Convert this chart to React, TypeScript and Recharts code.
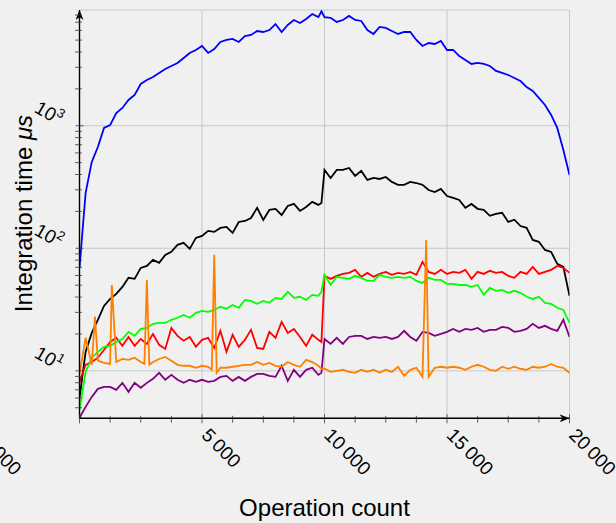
import { CartesianGrid, Line, LineChart, XAxis, YAxis } from 'recharts';

// sample points along the operation axis (shared by every series)
const ops = [
  0, 250, 500, 750, 1000, 1250, 1500, 1750, 2000, 2250,
  2500, 2750, 3000, 3250, 3500, 3750, 4000, 4250, 4500, 4750,
  5000, 5250, 5500, 5750, 6000, 6250, 6500, 6750, 7000, 7250,
  7500, 7750, 8000, 8250, 8500, 8750, 9000, 9250, 9500, 9750,
  9875,
  10000, 10250, 10500, 10750, 11000, 11250, 11500, 11750, 12000, 12250,
  12500, 12750, 13000, 13250, 13500, 13750, 14000, 14250, 14500, 14750,
  15000, 15250, 15500, 15750, 16000, 16250, 16500, 16750, 17000, 17250,
  17500, 17750, 18000, 18250, 18500, 18750, 19000, 19250, 19500, 19750,
  20000,
];

const blueTimes = [
  69, 283, 507, 671, 960, 1013, 1270, 1396, 1622, 1782,
  2192, 2365, 2502, 2698, 2906, 3076, 3254, 3575, 3928, 4152,
  4478, 3928, 4229, 4828, 5012, 5107, 4828, 5400, 5504, 5932,
  5822, 6040, 6761, 5822, 6637, 7295, 6888, 7430, 8166, 7709,
  8600,
  7700, 7600, 7030, 7295, 7870, 7295, 7160, 6040, 5610, 6400,
  6280, 5932, 5610, 5822, 5822, 5012, 4478, 4732, 4645, 4920,
  4152, 4152, 3705, 3443, 3193, 3254, 3193, 3076, 2800, 2698,
  2595, 2455, 2317, 2070, 1921, 1686, 1479, 1225, 960, 635,
  397,
];

const blackTimes = [
  6, 14.3, 20.4, 26.1, 33.9, 38.6, 42.4, 48.4, 57.4, 56.3,
  69.2, 71.8, 80.4, 76.0, 88.4, 93.5, 106.6, 110.7, 98.9, 121.6,
  126.3, 138.7, 136.1, 146.6, 149.6, 133.6, 164.0, 167.1, 176.9, 213.6,
  170.4, 205.7, 209.6, 187.0, 221.8, 230.3, 201.8, 217.6, 239.0, 225.9,
  234,
  436, 375, 436, 436, 452, 390, 428, 361, 375, 368,
  382, 348, 329, 329, 348, 341, 329, 299, 288, 305,
  267, 258, 248, 214, 230, 210, 206, 184, 191, 195,
  164, 171, 152, 147, 117, 113, 97, 93.5, 74.7, 70.5,
  40.9,
];

const redTimes = [
  8.1, 11.2, 11.8, 12.8, 14.8, 17.2, 18.6, 16.0, 18.9, 16.0,
  18.2, 16.6, 20.0, 16.3, 15.1, 22.4, 19.3, 17.6, 18.9, 15.7,
  17.9, 18.6, 15.4, 21.2, 14.3, 19.7, 15.7, 17.9, 21.6, 15.4,
  15.1, 20.8, 18.6, 25.1, 20.4, 22.0, 18.9, 16.0, 19.7, 17.9,
  17.2,
  59.6, 56.3, 59.6, 61.8, 63.0, 66.7, 58.5, 63.0, 58.5, 61.8,
  64.2, 60.7, 63.0, 61.8, 64.2, 60.7, 77.5, 64.2, 61.8, 66.7,
  61.8, 64.2, 63.0, 66.7, 56.3, 64.2, 61.8, 65.5, 63.0, 64.2,
  59.6, 57.4, 64.2, 61.8, 70.5, 61.8, 64.2, 66.7, 71.8, 69.2,
  63.0,
];

const greenTimes = [
  4.81, 9.8, 12.8, 14.3, 15.7, 16.0, 17.2, 18.2, 20.8, 19.3,
  22.0, 22.4, 24.2, 24.6, 24.6, 26.1, 27.1, 28.6, 27.1, 29.7,
  30.8, 30.3, 31.4, 33.3, 32.1, 34.5, 32.7, 37.9, 37.2, 35.2,
  37.2, 35.9, 39.4, 38.6, 44.1, 39.4, 40.2, 37.9, 41.7, 40.9,
  44.1,
  60.7, 50.2, 58.5, 57.4, 56.3, 59.6, 57.4, 54.2, 54.2, 60.7,
  58.5, 57.4, 58.5, 57.4, 58.5, 54.2, 52.2, 57.4, 55.2, 55.2,
  51.3, 51.3, 50.2, 50.2, 48.4, 50.2, 41.7, 47.5, 45.0, 45.8,
  43.3, 45.0, 43.3, 40.2, 38.6, 40.2, 35.9, 35.2, 32.7, 31.4,
  24.6,
];

const purpleTimes = [
  4.14, 5.08, 6.13, 7.13, 7.40, 7.40, 7.00, 7.98, 6.74, 7.98,
  7.27, 7.98, 8.61, 9.63, 8.45, 9.27, 8.45, 7.98, 8.45, 8.13,
  8.45, 8.13, 8.29, 8.93, 9.10, 8.29, 8.93, 8.29, 8.93, 9.45,
  9.45, 9.10, 8.93, 11.0, 8.29, 10.2, 8.93, 10.2, 10.6, 9.27,
  9.63,
  18.2, 16.6, 18.6, 16.6, 18.9, 19.3, 19.3, 18.2, 18.9, 18.6,
  18.9, 18.2, 18.9, 21.2, 18.9, 17.6, 20.8, 20.4, 19.3, 20.0,
  20.8, 22.0, 20.8, 22.0, 21.6, 22.4, 20.8, 21.6, 21.6, 22.8,
  22.4, 20.8, 21.2, 22.0, 24.2, 22.4, 23.3, 22.0, 21.2, 26.1,
  18.9,
];

const orangeTimes = [
  9.45, 18.6, 11.2, 12.1, 11.6, 11.4, 11.8, 12.5, 12.3, 12.8,
  11.8, 55.2, 11.8, 12.5, 13.0, 12.1, 11.2, 11.0, 11.0, 10.6,
  11.0, 10.8, 88.4, 10.6, 10.6, 10.8, 11.0, 11.2, 11.2, 11.8,
  11.2, 11.6, 11.0, 10.8, 11.8, 11.2, 10.8, 12.3, 11.8, 11.0,
  10.4,
  10.4, 9.8, 10.0, 10.2, 9.8, 9.63, 10.2, 9.8, 10.2, 9.63,
  10.2, 9.8, 10.8, 9.10, 10.2, 10.6, 8.93, 8.93, 10.6, 10.8,
  10.6, 10.8, 10.6, 10.2, 10.8, 11.2, 10.8, 10.2, 10.0, 10.8,
  10.4, 10.8, 10.4, 10.2, 10.8, 10.6, 10.8, 11.4, 10.8, 10.6,
  9.63,
];

// extra orange samples around its short spikes
const orangeSpikeOps = [630, 1320, 2650, 2850, 5400, 5600, 14150];
const orangeSpikeTimes = [27.7, 50.2, 11.4, 11.2, 10.2, 9.63, 117];

const xMajorTicks = [0, 5000, 10000, 15000, 20000];
const xMinorTicks = [1250, 2500, 3750, 6250, 7500, 8750, 11250, 12500, 13750, 16250, 17500, 18750];
const xTickLabels: Record<number, string> = {
  5000: '5\u2009000',
  10000: '10\u2009000',
  15000: '15\u2009000',
  20000: '20\u2009000',
};
// last label of the neighbouring panel, cut by the left edge
const neighbourLabel = '20\u2009000';

const yMajorTicks = [10, 100, 1000];
const yMinorTicks = [
  5, 6, 7, 8, 9,
  20, 30, 40, 50, 60, 70, 80, 90,
  200, 300, 400, 500, 600, 700, 800, 900,
  2000, 3000, 4000, 5000, 6000, 7000, 8000,
];
const yExponents: Record<number, string> = { 10: '1', 100: '2', 1000: '3' };

const toPoints = (xs: number[], ts: number[]) => xs.map((x, i) => ({ ops: x, t: ts[i] }));
const blueData = toPoints(ops, blueTimes);
const blackData = toPoints(ops, blackTimes);
const redData = toPoints(ops, redTimes);
const greenData = toPoints(ops, greenTimes);
const purpleData = toPoints(ops, purpleTimes);
const orangeData = [...toPoints(ops, orangeTimes), ...toPoints(orangeSpikeOps, orangeSpikeTimes)].sort(
  (a, b) => a.ops - b.ops,
);

const FONT = '"Liberation Sans", Arial, sans-serif';
const TICK = '#3a3a3a';

function RotLabel({ x, y, text }: { x: number; y: number; text: string }) {
  const tx = x - 1.5;
  const ty = y + 18;
  return (
    <text x={tx} y={ty} transform={`rotate(45 ${tx} ${ty})`} fontSize={19} fontFamily={FONT} fill="#000">
      {text}
    </text>
  );
}

function XMajorTick({ x, y, payload }: any) {
  const v = payload.value as number;
  return (
    <g>
      <line x1={x} x2={x} y1={y - 4} y2={y + 5} stroke={TICK} strokeWidth={0.8} />
      {v === 0 ? <RotLabel x={x - 104.5} y={y} text={neighbourLabel} /> : <RotLabel x={x} y={y} text={xTickLabels[v]} />}
    </g>
  );
}

function XMinorTick({ x, y }: any) {
  return <line x1={x} x2={x} y1={y - 3.5} y2={y + 3.5} stroke={TICK} strokeWidth={0.8} />;
}

function YMajorTick({ x, y, payload }: any) {
  const tx = x - 21.6;
  const ty = y;
  return (
    <g>
      <line x1={x - 4} x2={x + 4} y1={y} y2={y} stroke={TICK} strokeWidth={0.8} />
      <text
        x={tx}
        y={ty}
        textAnchor="end"
        transform={`rotate(30 ${tx} ${ty})`}
        fontSize={19}
        fontFamily={FONT}
        fill="#000"
      >
        10
        <tspan dy={-8} fontSize={13}>
          {yExponents[payload.value]}
        </tspan>
      </text>
    </g>
  );
}

function YMinorTick({ x, y }: any) {
  return <line x1={x - 3.5} x2={x + 3.5} y1={y} y2={y} stroke={TICK} strokeWidth={0.8} />;
}

const series = [
  { key: 'blue', data: blueData, color: '#0000ff' },
  { key: 'black', data: blackData, color: '#000000' },
  { key: 'red', data: redData, color: '#ff0000' },
  { key: 'green', data: greenData, color: '#00ff00' },
  { key: 'purple', data: purpleData, color: '#800080' },
  { key: 'orange', data: orangeData, color: '#ff8000' },
];

export default function App() {
  return (
    <div
      style={{
        position: 'absolute',
        left: 0,
        top: 0,
        width: 616,
        height: 523,
        background: '#f0f0f0',
        overflow: 'hidden',
      }}
    >
      {/* two 1px axes per side, so the plot box lands at 79.5..569.5 × 10..418.3 */}
      <LineChart width={616} height={523} margin={{ top: 10, right: 46.5, bottom: 102.7, left: 77.5 }}>
        <defs>
          <marker
            id="arrowHead"
            viewBox="0 0 10 8"
            refX={10}
            refY={4}
            markerWidth={10}
            markerHeight={8}
            markerUnits="userSpaceOnUse"
            orient="auto-start-reverse"
          >
            <path d="M0,0 L10,4 L0,8 L3,4 Z" fill="#000" />
          </marker>
        </defs>
        <CartesianGrid xAxisId="x" yAxisId="y" stroke="#c8c8c8" strokeWidth={1} />
        <XAxis
          xAxisId="x"
          type="number"
          dataKey="ops"
          domain={[0, 20000]}
          allowDataOverflow
          ticks={xMajorTicks}
          interval={0}
          height={1}
          tickSize={0}
          tickMargin={0}
          tickLine={false}
          axisLine={{ stroke: '#000', strokeWidth: 1.4, markerEnd: 'url(#arrowHead)' }}
          tick={(p: any) => <XMajorTick {...p} />}
        />
        <XAxis
          xAxisId="xminor"
          type="number"
          dataKey="ops"
          domain={[0, 20000]}
          allowDataOverflow
          ticks={xMinorTicks}
          interval={0}
          height={1}
          tickSize={0}
          tickMargin={0}
          axisLine={false}
          tickLine={false}
          tick={(p: any) => <XMinorTick {...p} />}
        />
        <YAxis
          yAxisId="y"
          type="number"
          scale="log"
          domain={[4.1, 8800]}
          allowDataOverflow
          ticks={yMajorTicks}
          interval={0}
          width={1}
          tickSize={0}
          tickMargin={0}
          tickLine={false}
          axisLine={{ stroke: '#000', strokeWidth: 1.4, markerStart: 'url(#arrowHead)' }}
          tick={(p: any) => <YMajorTick {...p} />}
        />
        <YAxis
          yAxisId="yminor"
          type="number"
          scale="log"
          domain={[4.1, 8800]}
          allowDataOverflow
          ticks={yMinorTicks}
          interval={0}
          width={1}
          tickSize={0}
          tickMargin={0}
          axisLine={false}
          tickLine={false}
          tick={(p: any) => <YMinorTick {...p} />}
        />
        {series.map((s) => (
          <Line
            key={s.key}
            xAxisId="x"
            yAxisId="y"
            data={s.data}
            dataKey="t"
            type="linear"
            stroke={s.color}
            strokeWidth={1.8}
            dot={false}
            activeDot={false}
            isAnimationActive={false}
          />
        ))}
        <text x={324.5} y={516} textAnchor="middle" fontSize={24} fontFamily={FONT} fill="#000">
          Operation count
        </text>
        <text
          x={32}
          y={213.5}
          textAnchor="middle"
          transform="rotate(-90 32 213.5)"
          fontSize={24}
          fontFamily={FONT}
          fill="#000"
        >
          Integration time <tspan fontStyle="italic">μs</tspan>
        </text>
      </LineChart>
    </div>
  );
}
